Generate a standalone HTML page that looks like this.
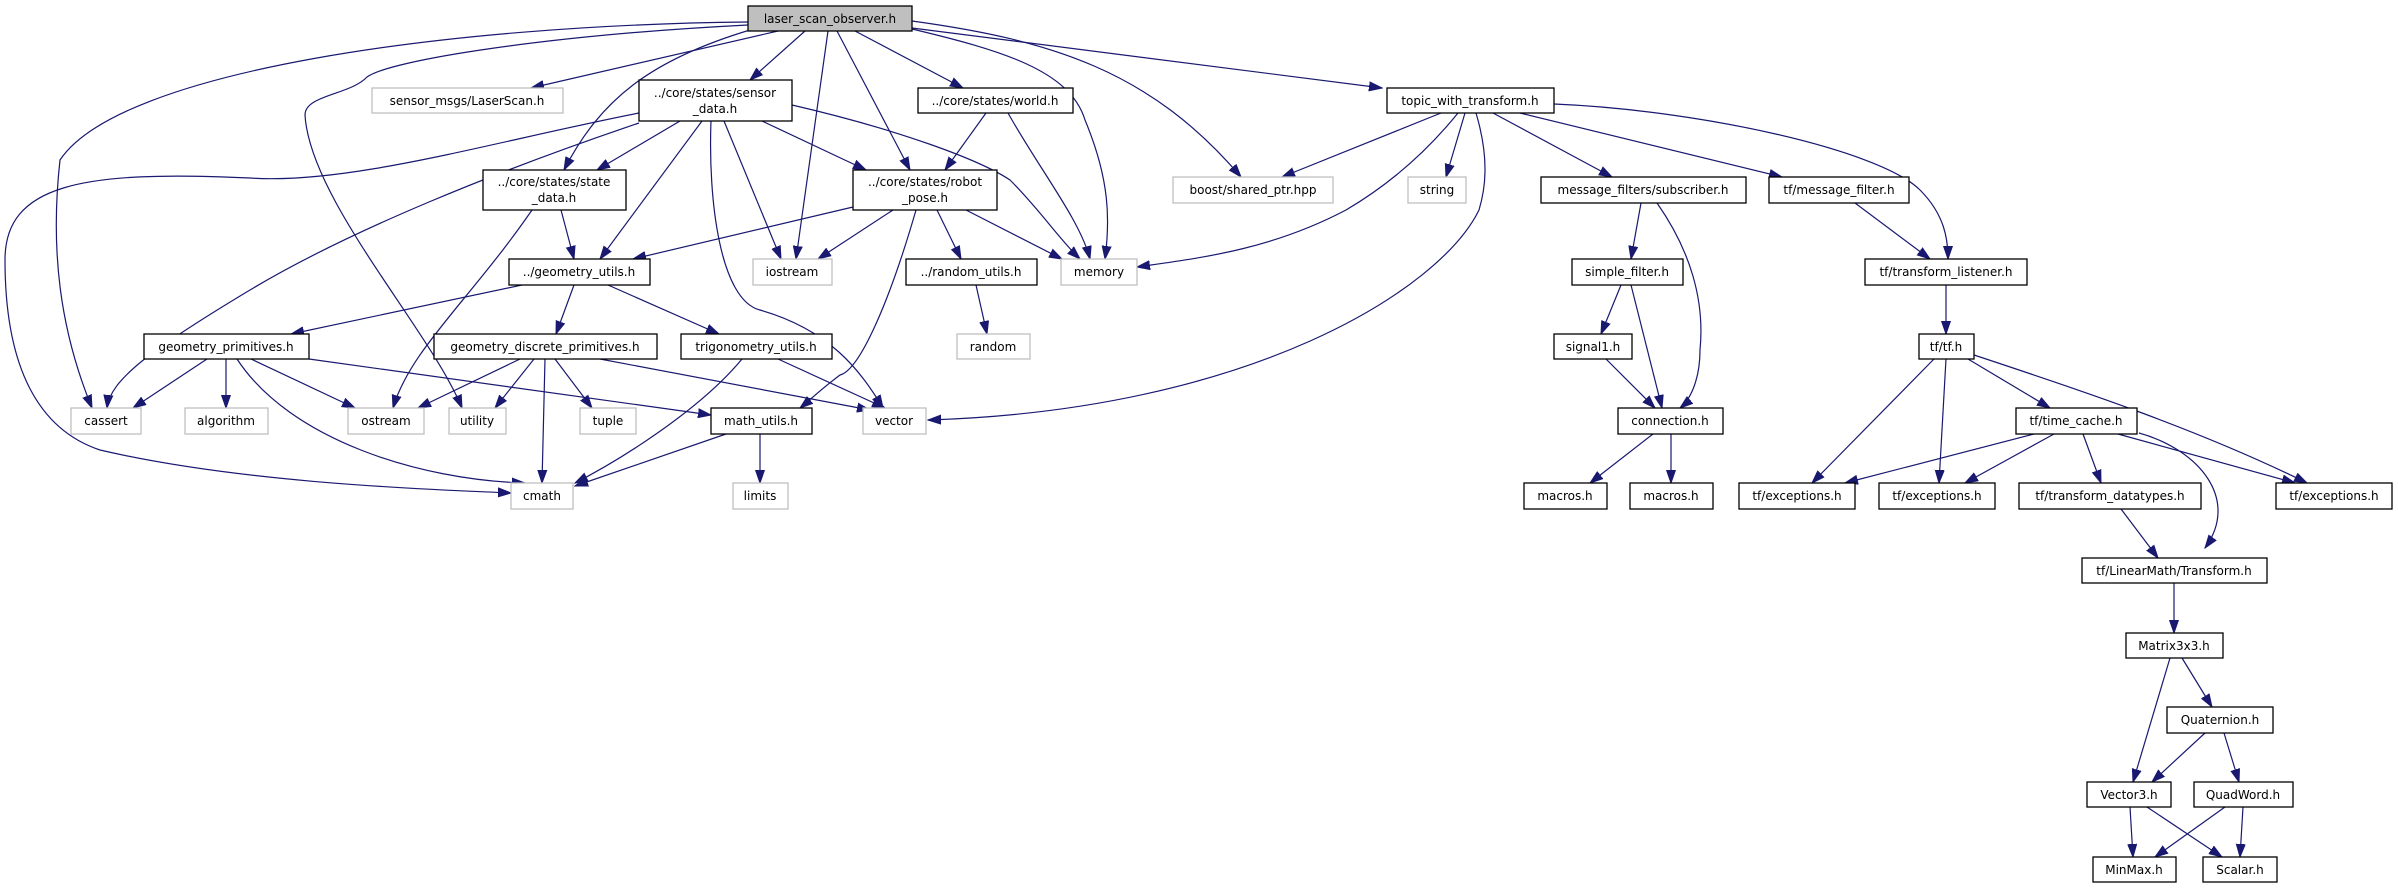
<!DOCTYPE html>
<html><head><meta charset="utf-8"><style>
html,body{margin:0;padding:0;background:#fff;}
svg{display:block;}
text{font-family:"DejaVu Sans","Liberation Sans",sans-serif;font-size:12px;fill:#000;text-anchor:middle;}
.n{fill:#fff;stroke:#000;stroke-width:1.3;}
.g{fill:#fff;stroke:#bfbfbf;stroke-width:1.3;}
.r{fill:#bfbfbf;stroke:#000;stroke-width:1.3;}
path{fill:none;stroke:#191970;stroke-width:1.2;marker-end:url(#a);}
</style></head><body>
<svg width="2398" height="888" viewBox="0 0 2398 888" xmlns="http://www.w3.org/2000/svg">
<defs><marker id="a" markerWidth="14" markerHeight="12" refX="13" refY="5" orient="auto" markerUnits="userSpaceOnUse"><polygon points="0,0.5 13,5 0,9.5" fill="#191970" stroke="#191970"/></marker></defs>
<path d="M748,22 C450,25 120,70 60,160 C50,250 60,330 92,408"/>
<path d="M748,25 C550,35 390,60 367,77 C350,95 305,95 305,115 C310,200 430,330 462,408"/>
<path d="M778,31 L531,88"/>
<path d="M805,31 L750,80"/>
<path d="M750,30 C650,60 600,100 564,170"/>
<path d="M828,31 L796,259"/>
<path d="M837,31 L910,170"/>
<path d="M855,31 L963,88"/>
<path d="M912,29 C1000,50 1070,70 1085,120 C1110,180 1110,220 1105,259"/>
<path d="M912,21 C1050,40 1150,70 1241,177"/>
<path d="M912,28 L1382,88"/>
<path d="M639,113 C500,140 350,185 250,178 C80,170 5,185 5,260 C5,370 40,430 100,450 C250,485 450,490 511,493"/>
<path d="M639,123 C500,170 350,230 250,290 C150,350 110,380 107,408"/>
<path d="M680,121 L597,170"/>
<path d="M702,121 L600,259"/>
<path d="M724,121 L781,259"/>
<path d="M711,121 C708,200 720,300 760,310 C830,330 860,370 883,408"/>
<path d="M762,121 L866,170"/>
<path d="M792,105 C900,130 980,160 1010,180 C1040,210 1060,240 1080,259"/>
<path d="M532,210 C470,300 410,350 393,408"/>
<path d="M561,210 L574,259"/>
<path d="M986,113 L945,170"/>
<path d="M1008,113 C1040,170 1080,220 1090,259"/>
<path d="M853,207 L633,259"/>
<path d="M893,210 L818,259"/>
<path d="M937,210 L961,259"/>
<path d="M966,210 L1062,259"/>
<path d="M916,210 C890,300 860,370 840,375 C820,390 810,400 800,408"/>
<path d="M522,285 L291,334"/>
<path d="M574,285 L556,334"/>
<path d="M608,285 L719,334"/>
<path d="M207,359 L133,408"/>
<path d="M226,359 L226,408"/>
<path d="M251,359 L355,408"/>
<path d="M309,359 L711,415"/>
<path d="M237,359 C290,440 420,480 525,483"/>
<path d="M520,359 L418,408"/>
<path d="M534,359 L495,408"/>
<path d="M545,359 L542,483"/>
<path d="M555,359 L592,408"/>
<path d="M600,359 L870,410"/>
<path d="M742,359 C700,410 620,460 575,483"/>
<path d="M778,359 L885,408"/>
<path d="M726,434 L575,486"/>
<path d="M760,434 L760,483"/>
<path d="M976,285 L987,334"/>
<path d="M1441,113 L1282,177"/>
<path d="M1465,113 L1446,177"/>
<path d="M1458,113 C1420,160 1380,190 1346,210 C1270,250 1200,258 1137,267"/>
<path d="M1476,113 C1490,160 1485,190 1479,210 C1440,290 1250,410 928,420"/>
<path d="M1493,113 L1612,177"/>
<path d="M1520,113 L1782,177"/>
<path d="M1554,104 C1700,110 1880,150 1920,190 C1945,215 1948,240 1948,259"/>
<path d="M1641,203 L1631,259"/>
<path d="M1657,203 C1690,250 1705,300 1700,350 C1700,380 1690,400 1680,408"/>
<path d="M1621,285 L1601,334"/>
<path d="M1631,285 L1662,408"/>
<path d="M1606,359 L1655,408"/>
<path d="M1653,434 L1590,483"/>
<path d="M1671,434 L1671,483"/>
<path d="M1855,203 L1930,259"/>
<path d="M1946,285 L1946,334"/>
<path d="M1934,359 L1812,483"/>
<path d="M1946,359 L1939,483"/>
<path d="M1968,359 L2050,408"/>
<path d="M1974,355 C2080,390 2200,430 2307,483"/>
<path d="M2034,434 L1845,483"/>
<path d="M2054,434 L1965,483"/>
<path d="M2083,434 L2101,483"/>
<path d="M2118,434 L2295,483"/>
<path d="M2139,433 C2200,450 2240,500 2205,548"/>
<path d="M2121,509 L2158,558"/>
<path d="M2174,583 L2174,633"/>
<path d="M2170,658 L2133,782"/>
<path d="M2182,658 L2212,707"/>
<path d="M2205,733 L2152,782"/>
<path d="M2224,733 L2239,782"/>
<path d="M2130,807 L2133,857"/>
<path d="M2147,807 L2222,857"/>
<path d="M2225,807 L2155,857"/>
<path d="M2243,807 L2240,857"/>
<rect class="r" x="748" y="6" width="164" height="25"/><text x="830" y="23">laser_scan_observer.h</text>
<rect class="g" x="372" y="88" width="191" height="25"/><text x="467" y="105">sensor_msgs/LaserScan.h</text>
<rect class="n" x="639" y="80" width="153" height="41"/><text x="715" y="97">../core/states/sensor</text><text x="715" y="113">_data.h</text>
<rect class="n" x="918" y="88" width="155" height="25"/><text x="995" y="105">../core/states/world.h</text>
<rect class="n" x="1387" y="88" width="167" height="25"/><text x="1470" y="105">topic_with_transform.h</text>
<rect class="n" x="483" y="170" width="143" height="40"/><text x="554" y="186">../core/states/state</text><text x="554" y="202">_data.h</text>
<rect class="n" x="853" y="170" width="144" height="40"/><text x="925" y="186">../core/states/robot</text><text x="925" y="202">_pose.h</text>
<rect class="g" x="1173" y="177" width="160" height="26"/><text x="1253" y="194">boost/shared_ptr.hpp</text>
<rect class="g" x="1408" y="177" width="58" height="26"/><text x="1437" y="194">string</text>
<rect class="n" x="1541" y="177" width="205" height="26"/><text x="1643" y="194">message_filters/subscriber.h</text>
<rect class="n" x="1769" y="177" width="140" height="26"/><text x="1839" y="194">tf/message_filter.h</text>
<rect class="n" x="509" y="259" width="141" height="26"/><text x="579" y="276">../geometry_utils.h</text>
<rect class="g" x="753" y="259" width="79" height="26"/><text x="792" y="276">iostream</text>
<rect class="n" x="906" y="259" width="131" height="26"/><text x="971" y="276">../random_utils.h</text>
<rect class="g" x="1061" y="259" width="76" height="26"/><text x="1099" y="276">memory</text>
<rect class="n" x="1572" y="259" width="111" height="26"/><text x="1627" y="276">simple_filter.h</text>
<rect class="n" x="1865" y="259" width="162" height="26"/><text x="1946" y="276">tf/transform_listener.h</text>
<rect class="n" x="144" y="334" width="165" height="25"/><text x="226" y="351">geometry_primitives.h</text>
<rect class="n" x="434" y="334" width="223" height="25"/><text x="545" y="351">geometry_discrete_primitives.h</text>
<rect class="n" x="681" y="334" width="151" height="25"/><text x="756" y="351">trigonometry_utils.h</text>
<rect class="g" x="957" y="334" width="73" height="25"/><text x="993" y="351">random</text>
<rect class="n" x="1554" y="334" width="78" height="25"/><text x="1593" y="351">signal1.h</text>
<rect class="n" x="1919" y="334" width="55" height="25"/><text x="1946" y="351">tf/tf.h</text>
<rect class="g" x="71" y="408" width="70" height="26"/><text x="106" y="425">cassert</text>
<rect class="g" x="185" y="408" width="83" height="26"/><text x="226" y="425">algorithm</text>
<rect class="g" x="348" y="408" width="76" height="26"/><text x="386" y="425">ostream</text>
<rect class="g" x="449" y="408" width="57" height="26"/><text x="477" y="425">utility</text>
<rect class="g" x="580" y="408" width="56" height="26"/><text x="608" y="425">tuple</text>
<rect class="n" x="711" y="408" width="101" height="26"/><text x="761" y="425">math_utils.h</text>
<rect class="g" x="863" y="408" width="63" height="26"/><text x="894" y="425">vector</text>
<rect class="n" x="1618" y="408" width="105" height="26"/><text x="1670" y="425">connection.h</text>
<rect class="n" x="2016" y="408" width="121" height="26"/><text x="2076" y="425">tf/time_cache.h</text>
<rect class="g" x="511" y="483" width="62" height="26"/><text x="542" y="500">cmath</text>
<rect class="g" x="733" y="483" width="55" height="26"/><text x="760" y="500">limits</text>
<rect class="n" x="1524" y="483" width="83" height="26"/><text x="1565" y="500">macros.h</text>
<rect class="n" x="1630" y="483" width="83" height="26"/><text x="1671" y="500">macros.h</text>
<rect class="n" x="1739" y="483" width="116" height="26"/><text x="1797" y="500">tf/exceptions.h</text>
<rect class="n" x="1879" y="483" width="116" height="26"/><text x="1937" y="500">tf/exceptions.h</text>
<rect class="n" x="2019" y="483" width="182" height="26"/><text x="2110" y="500">tf/transform_datatypes.h</text>
<rect class="n" x="2276" y="483" width="116" height="26"/><text x="2334" y="500">tf/exceptions.h</text>
<rect class="n" x="2082" y="558" width="185" height="25"/><text x="2174" y="575">tf/LinearMath/Transform.h</text>
<rect class="n" x="2126" y="633" width="97" height="25"/><text x="2174" y="650">Matrix3x3.h</text>
<rect class="n" x="2167" y="707" width="106" height="26"/><text x="2220" y="724">Quaternion.h</text>
<rect class="n" x="2087" y="782" width="84" height="25"/><text x="2129" y="799">Vector3.h</text>
<rect class="n" x="2194" y="782" width="99" height="25"/><text x="2243" y="799">QuadWord.h</text>
<rect class="n" x="2093" y="857" width="83" height="25"/><text x="2134" y="874">MinMax.h</text>
<rect class="n" x="2203" y="857" width="74" height="25"/><text x="2240" y="874">Scalar.h</text>
</svg>
</body></html>
